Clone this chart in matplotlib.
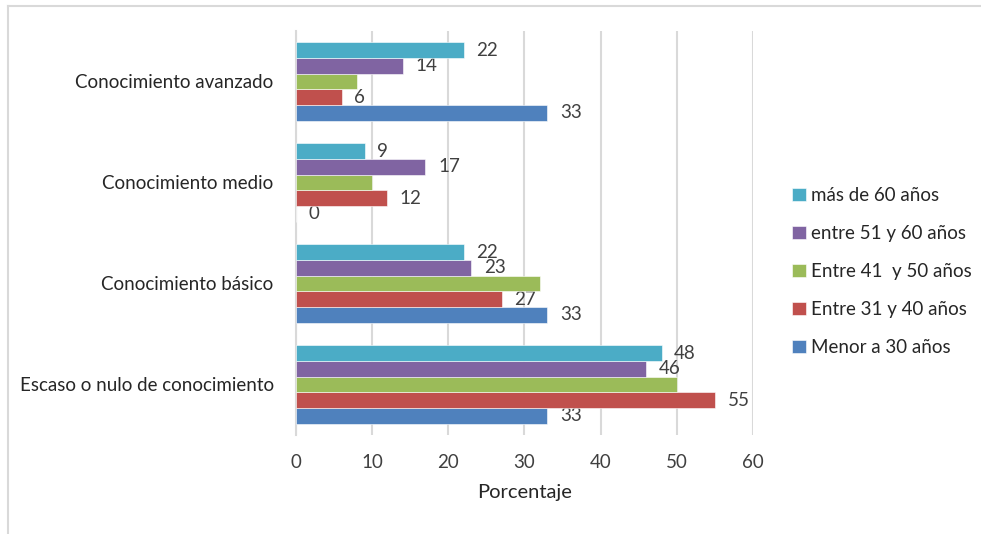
import numpy as np
import matplotlib
matplotlib.use('Agg')
import matplotlib.pyplot as plt
from matplotlib.lines import Line2D

categories = ['Escaso o nulo de conocimiento', 'Conocimiento básico',
              'Conocimiento medio', 'Conocimiento avanzado']
series_names = ['Menor a 30 años', 'Entre 31 y 40 años', 'Entre 41  y 50 años',
                'entre 51 y 60 años', 'más de 60 años']
menor_30 = [33, 33, 0, 33]
entre_31_40 = [55, 27, 12, 6]
entre_41_50 = [50, 32, 10, 8]
entre_51_60 = [46, 23, 17, 14]
mas_60 = [48, 22, 9, 22]
values = [menor_30, entre_31_40, entre_41_50, entre_51_60, mas_60]
show_labels = [True, True, False, True, True]
colors = ['#4f81bd', '#c0504d', '#9bbb59', '#8064a2', '#4bacc6']

plt.rcParams['font.family'] = ['Lato', 'DejaVu Sans']
txt = '#404040'

fig = plt.figure(figsize=(9.81, 5.34), dpi=100)
ax = fig.add_axes([0.3017, 0.1854, 0.4659, 0.7566])

y = np.arange(len(categories))
h = 0.155
handles = []
for i, (vals, name, c) in enumerate(zip(values, series_names, colors)):
    bars = ax.barh(y + (i - 2) * h, vals, height=h, color=c,
                   edgecolor='white', linewidth=0.4, label=name, zorder=3)
    handles.append(bars)
    if show_labels[i]:
        ax.bar_label(bars, padding=9, fontsize=13.5, color=txt)

ax.set_xlim(0, 60)
ax.set_ylim(-0.5, 3.5)
ax.set_xticks(range(0, 61, 10))
ax.set_yticks(y)
ax.set_yticklabels(categories, fontsize=13.5, color='#262626')
ax.tick_params(axis='x', labelsize=13.5, labelcolor=txt, length=0, pad=14)
ax.tick_params(axis='y', length=0, pad=16)
ax.grid(axis='x', color='#d9d9d9', linewidth=1.5, zorder=0)
for s in ['top', 'right', 'bottom']:
    ax.spines[s].set_visible(False)
ax.spines['left'].set_color('#d9d9d9')
ax.spines['left'].set_linewidth(1.5)
ax.set_xlabel('Porcentaje', fontsize=14.5, color='#262626', labelpad=9)

fig.legend(handles[::-1], series_names[::-1], loc='center left',
           bbox_to_anchor=(0.79, 0.4915), frameon=False, fontsize=13.5,
           handlelength=0.75, handleheight=0.75, handletextpad=0.25,
           labelspacing=1.12, labelcolor='#262626')

# outer frame lines (top and left only visible)
fig.add_artist(Line2D([0.008, 1.0], [0.989, 0.989], color='#d9d9d9', lw=1.5,
                      transform=fig.transFigure))
fig.add_artist(Line2D([0.008, 0.008], [0.0, 0.989], color='#d9d9d9', lw=1.5,
                      transform=fig.transFigure))

plt.savefig('out.png', dpi=100)
